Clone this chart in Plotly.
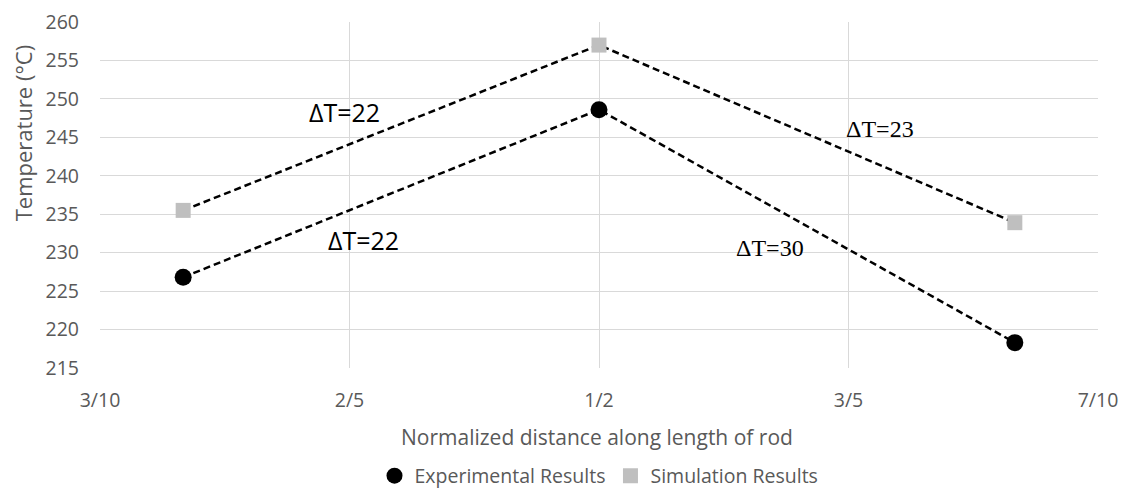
import plotly.graph_objects as go

positions = [1/3, 1/2, 2/3]
experimental = [226.8, 248.6, 218.3]
simulation = [235.5, 257.0, 233.9]
x_ticks = [0.3, 0.4, 0.5, 0.6, 0.7]
x_tick_labels = ["3/10", "2/5", "1/2", "3/5", "7/10"]
y_ticks = list(range(215, 261, 5))

notes = [
    ("ΔT=22", 0.398, 248.3, "Open Sans", 25),
    ("ΔT=22", 0.4058, 231.7, "Open Sans", 25),
    ("ΔT=23", 0.6126, 246.1, "Liberation Serif", 24),
    ("ΔT=30", 0.5685, 230.6, "Liberation Serif", 24),
]

fig = go.Figure()
for ys in (experimental, simulation):
    fig.add_trace(go.Scatter(x=positions, y=ys, mode="lines",
                             line=dict(color="black", width=2.5, dash="7px,4px"),
                             showlegend=False, hoverinfo="skip"))
fig.add_trace(go.Scatter(x=positions, y=experimental, mode="markers",
                         name="Experimental Results",
                         marker=dict(symbol="circle", size=17, color="black")))
fig.add_trace(go.Scatter(x=positions, y=simulation, mode="markers",
                         name="Simulation Results",
                         marker=dict(symbol="square", size=15, color="#BFBFBF")))

for text, x, y, font, size in notes:
    fig.add_annotation(x=x, y=y, text=text, showarrow=False,
                       font=dict(family=font, size=size, color="black"))

grey = "#595959"
fig.add_annotation(xref="paper", yref="paper", x=-0.0772, y=0.681,
                   xanchor="center", yanchor="middle",
                   text="Temperature (°C)", textangle=-90, showarrow=False,
                   font=dict(size=22, color=grey))
fig.add_annotation(xref="paper", yref="paper", x=0.498, y=-0.198,
                   xanchor="center", yanchor="middle",
                   text="Normalized distance along length of rod", showarrow=False,
                   font=dict(size=21, color=grey))

fig.update_layout(
    width=1125, height=482,
    margin=dict(l=92, r=35, t=14, b=122),
    plot_bgcolor="white", paper_bgcolor="white",
    font=dict(family="Open Sans", color=grey),
    xaxis=dict(range=[0.3, 0.7], tickvals=x_ticks, ticktext=x_tick_labels,
               showgrid=True, gridcolor="#D9D9D9", gridwidth=1,
               zeroline=False, showline=False, ticks="", ticklabelstandoff=18,
               ticklabeloverflow="allow", automargin=False,
               tickfont=dict(size=19.5, color=grey)),
    yaxis=dict(range=[215, 260], tickvals=y_ticks,
               showgrid=True, gridcolor="#D9D9D9", gridwidth=1,
               zeroline=False, showline=False, ticks="", ticklabelstandoff=20,
               ticklabeloverflow="allow", automargin=False,
               tickfont=dict(size=19.5, color=grey)),
    legend=dict(orientation="h", x=0.5, xanchor="center",
                yref="container", y=0.029, yanchor="middle",
                itemwidth=30, tracegroupgap=0,
                font=dict(size=19.5, color=grey)),
)
fig.write_html("out.html")
